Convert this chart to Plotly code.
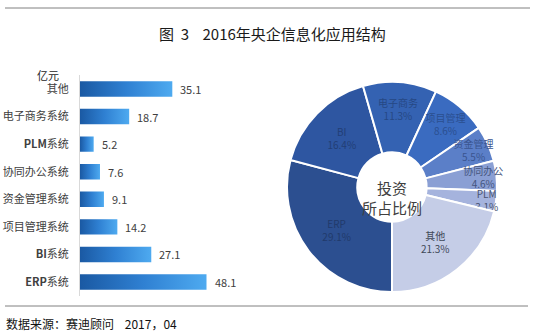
import plotly.graph_objects as go

# ---- data ----
bar_categories = ["ERP系统", "BI系统", "项目管理系统", "资金管理系统", "协同办公系统", "PLM系统", "电子商务系统", "其他"]
bar_ticktext = ["<b>ERP</b>系统", "<b>BI</b>系统", "项目管理系统", "资金管理系统", "协同办公系统", "<b>PLM</b>系统", "电子商务系统", "其他"]
bar_values = [48.1, 27.1, 14.2, 9.1, 7.6, 5.2, 18.7, 35.1]

pie_labels = ["ERP", "BI", "电子商务", "项目管理", "资金管理", "协同办公", "PLM", "其他"]
pie_values = [48.1, 27.1, 18.7, 14.2, 9.1, 7.6, 5.2, 35.1]
pie_colors = ["#2c4f90", "#2e56a1", "#3462b2", "#3a6bc0", "#5b7fc8", "#8a9fd4", "#a5b3dd", "#c5cde7"]
pie_text_colors = ["#213a6b", "#223e76", "#264884", "#2a4f90", "#3a5590", "#44557e", "#4a5472", "#404858"]

W, H = 536, 334
FONT = "Noto Sans CJK SC"

fig = go.Figure()

# gradient bars (one filled polygon per bar, built from data values)
half = 0.28
for i, v in enumerate(bar_values):
    fig.add_trace(go.Scatter(
        x=[0, v, v, 0, 0],
        y=[i - half, i - half, i + half, i + half, i - half],
        mode="lines", line=dict(width=0), fill="toself",
        fillgradient=dict(type="horizontal",
                          colorscale=[[0, "#1a59a3"], [0.5, "#2f80d2"], [1, "#4eaaf0"]]),
        hoverinfo="skip", showlegend=False, xaxis="x", yaxis="y"))

# donut
fig.add_trace(go.Pie(
    labels=pie_labels, values=pie_values, sort=False, direction="clockwise",
    rotation=180, hole=0.33,
    marker=dict(colors=pie_colors, line=dict(color="white", width=2)),
    texttemplate="%{label}<br>%{percent:.1%}", textposition="inside",
    insidetextorientation="horizontal",
    textfont=dict(family=FONT, size=10, color=pie_text_colors),
    domain=dict(x=[287 / W, 497 / W], y=[1 - 292 / H, 1 - 82 / H]),
    showlegend=False))

x0px, x1px = 80, 250
pxu = 2.63
y_top, y_bot = 89 - 13.8, 282 + 13.8

value_annotations = [
    dict(x=v, y=i, xref="x", yref="y", text=f"{v:.1f}", showarrow=False,
         xanchor="left", yanchor="middle", xshift=6,
         font=dict(family=FONT, size=11, color="#404040"))
    for i, v in enumerate(bar_values)
]

fig.update_layout(
    width=W, height=H, margin=dict(l=0, r=0, t=0, b=0),
    paper_bgcolor="white", plot_bgcolor="white",
    font=dict(family=FONT, color="#404040"),
    uniformtext=dict(minsize=10, mode="show"),
    xaxis=dict(domain=[x0px / W, x1px / W], range=[0, (x1px - x0px) / pxu],
               visible=False, fixedrange=True),
    yaxis=dict(domain=[1 - y_bot / H, 1 - y_top / H], range=[-0.5, 7.5],
               tickvals=list(range(len(bar_categories))), ticktext=bar_ticktext,
               showline=True, linecolor="#d9d9d9", linewidth=1, showgrid=False,
               zeroline=False, ticks="", ticklabelstandoff=8,
               tickfont=dict(family=FONT, size=11, color="#404040")),
    shapes=[
        dict(type="line", xref="paper", yref="paper", x0=5 / W, x1=530 / W,
             y0=1 - 8 / H, y1=1 - 8 / H, line=dict(color="#808080", width=1)),
        dict(type="line", xref="paper", yref="paper", x0=5 / W, x1=528 / W,
             y0=1 - 306 / H, y1=1 - 306 / H, line=dict(color="#808080", width=1)),
    ],
    annotations=value_annotations + [
        dict(text="图  3    2016年央企信息化应用结构", xref="paper", yref="paper",
             x=272 / W, y=1 - 33 / H, showarrow=False, xanchor="center", yanchor="middle",
             font=dict(family=FONT, size=15, color="#1a1a1a")),
        dict(text="亿元", xref="paper", yref="paper", x=61 / W, y=1 - 75 / H,
             showarrow=False, xanchor="right", yanchor="middle",
             font=dict(family=FONT, size=11, color="#262626")),
        dict(text="投资<br>所占比例", xref="paper", yref="paper", x=392 / W, y=1 - 197 / H,
             showarrow=False, xanchor="center", yanchor="middle",
             font=dict(family=FONT, size=15, color="#404040")),
        dict(text="数据来源：赛迪顾问    2017，04", xref="paper", yref="paper",
             x=4 / W, y=1 - 323 / H, showarrow=False, xanchor="left", yanchor="middle",
             font=dict(family=FONT, size=12, color="#111111")),
    ],
)

fig.write_html("out.html")
